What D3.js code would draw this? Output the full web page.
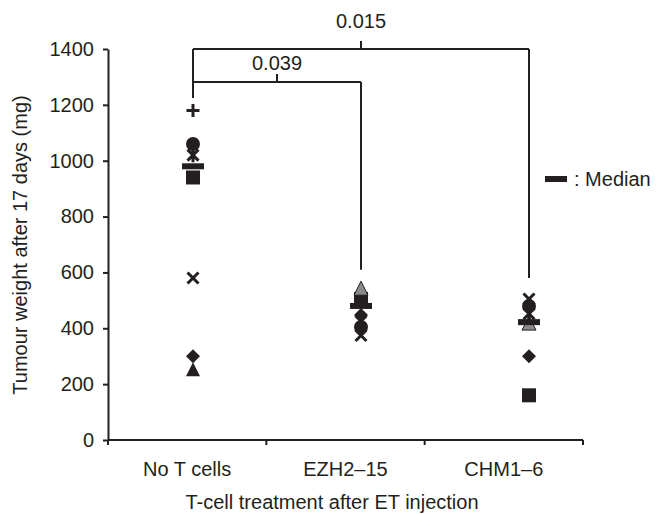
<!DOCTYPE html>
<html>
<head>
<meta charset="utf-8">
<script src="https://cdn.jsdelivr.net/npm/d3@7"></script>
<style>
  body { margin: 0; background: #fff; }
  text { font-family: "Liberation Sans", Arial, sans-serif; fill: #231f20; }
</style>
</head>
<body>
<div id="chart"></div>
<script>
// Chart data
const categories = ['No T cells', 'EZH2\u201315', 'CHM1\u20136'];
const markerTypes = ['diamond', 'square', 'triangle', 'x', 'star', 'circle', 'plus'];
// one value per marker type, per group (null = no point)
const noTCells = [300, 940, 250, 580, 1020, 1060, 1180];
const ezh2_15 = [448, 505, 540, 374, 425, 405, null];
const chm1_6 = [300, 160, 415, 505, 452, 480, null];
const medians = [980, 480, 422];
const yTicks = [0, 200, 400, 600, 800, 1000, 1200, 1400];
// significance brackets: groups compared, p value, height (mg units)
const brackets = [
    { from: 0, to: 2, label: '0.015', level: 1400 },
    { from: 0, to: 1, label: '0.039', level: 1282 }
];
// how far down each group's drop line reaches (mg units)
const dropEnds = [1225, 610, 580];

const groups = [noTCells, ezh2_15, chm1_6];
const ink = '#231f20';
const gray = '#8a8a8a';
const fontSize = '20px';

const width = 657, height = 514;
const svg = d3.select('#chart').append('svg')
    .attr('width', width)
    .attr('height', height);

const y = d3.scaleLinear().domain([0, 1400]).range([440, 49]);
const xBand = d3.scaleBand().domain(categories).range([108, 583]);
// markers sit a bit right of the band centres, like the original
const xPt = d3.scalePoint().domain(categories).range([193, 529]);

// y axis
const yAxis = svg.append('g')
    .attr('transform', 'translate(108,0)')
    .call(d3.axisLeft(y).tickValues(yTicks).tickFormat(d3.format('d'))
        .tickSize(5).tickPadding(9).tickSizeOuter(0));
yAxis.select('.domain').attr('stroke', ink).attr('stroke-width', 2);
yAxis.selectAll('.tick line').attr('stroke', ink).attr('stroke-width', 2);
yAxis.selectAll('.tick text').attr('font-size', fontSize).attr('fill', ink)
    .attr('font-family', '"Liberation Sans", Arial, sans-serif');

// x axis
const xAxis = svg.append('g').attr('transform', 'translate(0,440)');
xAxis.append('line')
    .attr('x1', xBand.range()[0]).attr('x2', xBand.range()[1])
    .attr('stroke', ink).attr('stroke-width', 2);
const bounds = categories.map(c => xBand(c)).concat([xBand.range()[1]]);
xAxis.selectAll('.xtick')
    .data(bounds)
    .enter().append('line')
    .attr('x1', d => d).attr('x2', d => d)
    .attr('y1', 0).attr('y2', 5)
    .attr('stroke', ink).attr('stroke-width', 2);
xAxis.selectAll('.xlabel')
    .data(categories)
    .enter().append('text')
    .attr('x', d => xBand(d) + xBand.bandwidth() / 2)
    .attr('y', 36)
    .attr('text-anchor', 'middle')
    .attr('font-size', fontSize)
    .text(d => d);

// axis titles
svg.append('text')
    .attr('x', 332).attr('y', 509)
    .attr('text-anchor', 'middle')
    .attr('font-size', fontSize)
    .text('T-cell treatment after ET injection');
svg.append('text')
    .attr('transform', 'translate(27,245) rotate(-90)')
    .attr('text-anchor', 'middle')
    .attr('font-size', fontSize)
    .text('Tumour weight after 17 days (mg)');

// significance brackets
const br = svg.append('g').attr('stroke', ink).attr('stroke-width', 2).attr('fill', 'none');
categories.forEach((c, i) => {
    br.append('line')
        .attr('x1', xPt(c)).attr('x2', xPt(c))
        .attr('y1', y(d3.max(brackets.filter(b => b.from === i || b.to === i), b => b.level)))
        .attr('y2', y(dropEnds[i]));
});
const labelGaps = [21, 12];
brackets.forEach((b, k) => {
    const x1 = xPt(categories[b.from]), x2 = xPt(categories[b.to]);
    const yy = y(b.level);
    const mid = (x1 + x2) / 2;
    br.append('line').attr('x1', x1).attr('x2', x2).attr('y1', yy).attr('y2', yy);
    br.append('line').attr('x1', mid).attr('x2', mid).attr('y1', yy).attr('y2', yy - 8);
    svg.append('text')
        .attr('x', mid).attr('y', yy - labelGaps[k])
        .attr('text-anchor', 'middle')
        .attr('font-size', fontSize)
        .text(b.label);
});

// markers
function drawMarker(g, type, cx, cy, fill) {
    const s = 7;
    if (type === 'square') {
        g.append('rect').attr('x', cx - s).attr('y', cy - s).attr('width', 2 * s).attr('height', 2 * s).attr('fill', fill);
    } else if (type === 'diamond') {
        g.append('path').attr('d', `M${cx},${cy - s}L${cx + s},${cy}L${cx},${cy + s}L${cx - s},${cy}Z`).attr('fill', fill);
    } else if (type === 'triangle') {
        g.append('path').attr('d', `M${cx},${cy - 8}L${cx + s},${cy + 6}L${cx - s},${cy + 6}Z`).attr('fill', fill)
            .attr('stroke', ink).attr('stroke-width', fill === ink ? 0 : 1);
    } else if (type === 'circle') {
        g.append('circle').attr('cx', cx).attr('cy', cy).attr('r', s).attr('fill', fill);
    } else if (type === 'x' || type === 'star') {
        const a = 5.5;
        g.append('path')
            .attr('d', `M${cx - a},${cy - a}L${cx + a},${cy + a}M${cx + a},${cy - a}L${cx - a},${cy + a}` +
                (type === 'star' ? `M${cx},${cy - 7}L${cx},${cy + 7}` : ''))
            .attr('stroke', fill).attr('stroke-width', 3).attr('fill', 'none');
    } else if (type === 'plus') {
        const a = 6.5;
        g.append('path')
            .attr('d', `M${cx - a},${cy}L${cx + a},${cy}M${cx},${cy - a}L${cx},${cy + a}`)
            .attr('stroke', fill).attr('stroke-width', 3).attr('fill', 'none');
    }
}

const marks = svg.append('g');
markerTypes.forEach((type, k) => {
    groups.forEach((vals, i) => {
        const v = vals[k];
        if (v == null) return;
        const fill = (type === 'triangle' && i > 0) ? gray : ink;
        drawMarker(marks, type, xPt(categories[i]), y(v), fill);
    });
});

// median bars
svg.append('g').selectAll('rect')
    .data(medians)
    .enter().append('rect')
    .attr('x', (d, i) => xPt(categories[i]) - 11)
    .attr('y', d => y(d) - 3)
    .attr('width', 22)
    .attr('height', 6)
    .attr('fill', ink);

// legend
svg.append('rect').attr('x', 545).attr('y', 176).attr('width', 22).attr('height', 6).attr('fill', ink);
svg.append('text')
    .attr('x', 574).attr('y', 186)
    .attr('font-size', fontSize)
    .text(': Median');
</script>
</body>
</html>
